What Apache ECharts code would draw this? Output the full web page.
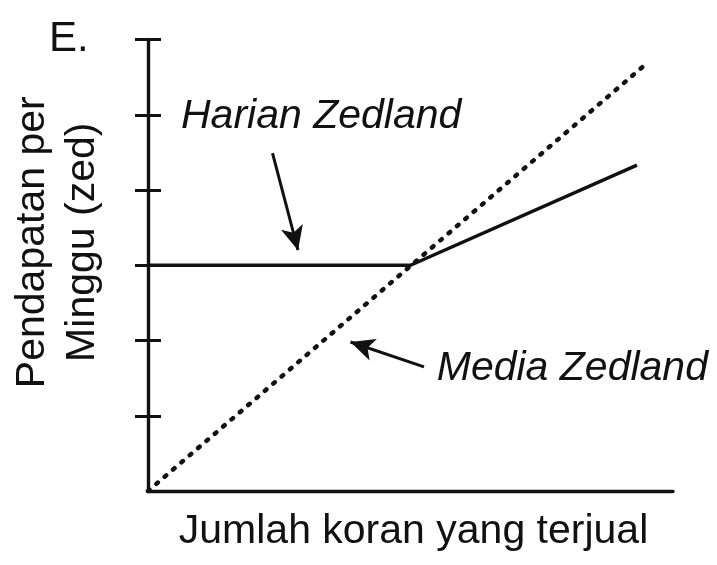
<!DOCTYPE html>
<html>
<head>
<meta charset="utf-8">
<script src="https://cdn.jsdelivr.net/npm/echarts@6/dist/echarts.min.js"></script>
<style>
html,body{margin:0;padding:0;background:#fff;}
#c{width:717px;height:565px;}
</style>
</head>
<body>
<div id="c"></div>
<script>
// Data (abstract units: x = newspapers sold, y = weekly income)
const xRange = [0, 7];
const yRange = [0, 6];
const yTickValues = [1, 2, 3, 4, 5, 6];
const harianZedland = [[0, 3], [3.5, 3], [6.52, 4.33]];
const mediaZedland = [[0, 0], [6.67, 5.7]];
const harianArrow = [[1.66, 4.49], [2.0, 3.2]];
const mediaArrow = [[3.68, 1.65], [2.7, 1.98]];
const harianLabelAt = [0.44, 4.97];
const mediaLabelAt = [3.85, 1.63];
const harianLabel = 'Harian Zedland';
const mediaLabel = 'Media Zedland';
const xName = 'Jumlah koran yang terjual';
const yName = 'Pendapatan per\nMinggu (zed)';
const panelTag = 'E.';

const ink = '#111';
const font = '"Liberation Sans", Arial, sans-serif';

const chart = echarts.init(document.getElementById('c'));
const option = {
  animation: false,
  backgroundColor: '#fff',
  grid: { left: 145, top: 39.5, right: 44, bottom: 74 },
  xAxis: {
    type: 'value', min: xRange[0], max: xRange[1], interval: 1,
    axisLine: { show: true, lineStyle: { color: ink, width: 3.4 } },
    axisTick: { show: false }, axisLabel: { show: false }, splitLine: { show: false },
    name: xName, nameLocation: 'middle', nameGap: 20,
    nameTextStyle: { fontFamily: font, fontSize: 41, color: ink, padding: [0, 0, 0, 6] }
  },
  yAxis: [{
    type: 'value', min: yRange[0], max: yRange[1], interval: 1,
    axisLine: { show: true, lineStyle: { color: ink, width: 3.4 } },
    axisTick: { show: true, length: 13, customValues: yTickValues, lineStyle: { color: ink, width: 3 } },
    axisLabel: { show: false }, splitLine: { show: false },
    name: yName, nameLocation: 'middle', nameGap: 40, nameRotate: 90,
    nameTextStyle: { fontFamily: font, fontSize: 41, color: ink, lineHeight: 50, align: 'center', padding: [0, 0, 0, 46] }
  }, {
    type: 'value', position: 'left', min: yRange[0], max: yRange[1], interval: 1,
    axisLine: { show: false },
    axisTick: { show: true, inside: true, length: 13, customValues: yTickValues, lineStyle: { color: ink, width: 3 } },
    axisLabel: { show: false }, splitLine: { show: false }
  }],
  series: [{
    name: harianLabel, type: 'line', data: harianZedland, symbol: 'none',
    lineStyle: { color: ink, width: 3.4 }, z: 3
  }, {
    name: mediaLabel, type: 'line', data: mediaZedland, symbol: 'none',
    lineStyle: { color: ink, width: 4.5, type: [2, 9], cap: 'round' }, z: 2,
    markLine: {
      silent: true, symbol: ['none', 'arrow'], symbolSize: [17, 24],
      lineStyle: { color: ink, width: 3, type: 'solid' },
      label: { show: false },
      data: [
        [{ coord: harianArrow[0] }, { coord: harianArrow[1] }],
        [{ coord: mediaArrow[0] }, { coord: mediaArrow[1] }]
      ]
    }
  }]
};
chart.setOption(option);

const p1 = chart.convertToPixel({ gridIndex: 0 }, harianLabelAt);
const p2 = chart.convertToPixel({ gridIndex: 0 }, mediaLabelAt);
chart.setOption({
  graphic: [
    { type: 'text', x: p1[0], y: p1[1], style: { text: harianLabel, font: 'italic 41px ' + font, fill: ink, verticalAlign: 'middle', align: 'left' } },
    { type: 'text', x: p2[0], y: p2[1], style: { text: mediaLabel, font: 'italic 41px ' + font, fill: ink, verticalAlign: 'middle', align: 'left' } },
    { type: 'text', left: 49, top: 18, style: { text: panelTag, font: '42px ' + font, fill: ink } }
  ]
});
</script>
</body>
</html>
